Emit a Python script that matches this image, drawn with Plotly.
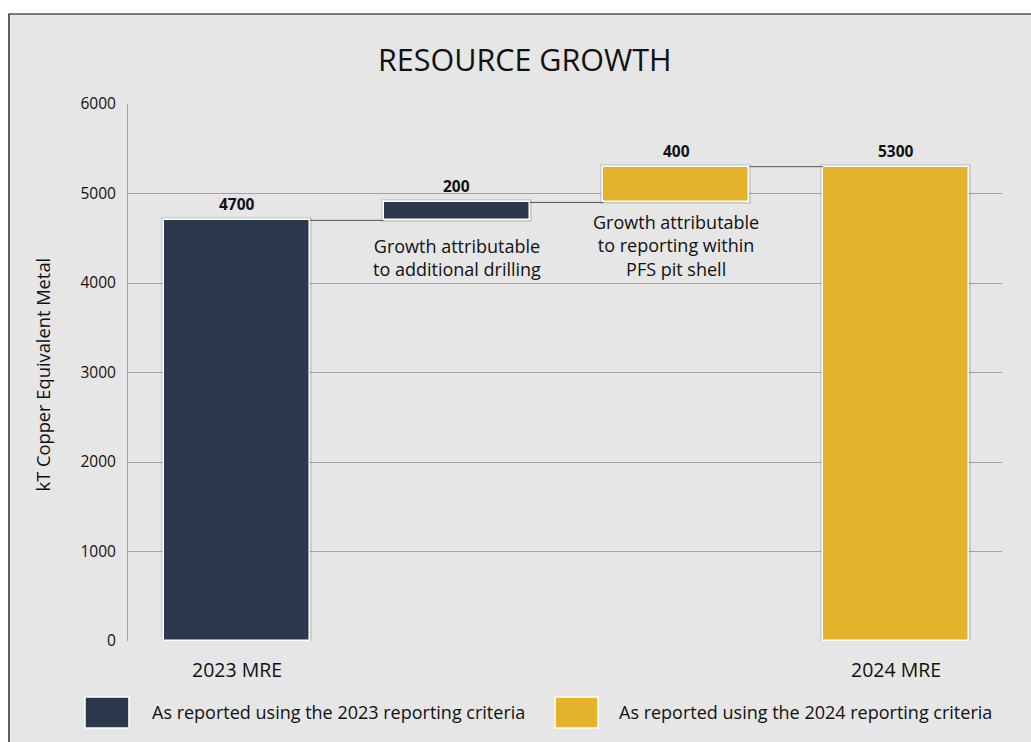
import plotly.graph_objects as go

# ---- data ----
categories = ["2023 MRE", "", "", "2024 MRE"]
growth_text = ["", "Growth attributable<br>to additional drilling",
               "Growth attributable<br>to reporting within<br>PFS pit shell", ""]
values = [4700, 200, 400, 5300]
bases = [0, 4700, 4900, 0]
series_color = ["2023", "2023", "2024", "2024"]
legend_labels = ["As reported using the 2023 reporting criteria",
                 "As reported using the 2024 reporting criteria"]
y_ticks = [0, 1000, 2000, 3000, 4000, 5000, 6000]

DARK = "#2c384b"
GOLD = "#e5b22b"
cmap = {"2023": DARK, "2024": GOLD}
FONT = "Open Sans, Noto Sans, sans-serif"
BW = 0.665

xs = list(range(len(values)))
colors = [cmap[s] for s in series_color]

fig = go.Figure()
# soft shadow
fig.add_trace(go.Bar(x=xs, y=values, base=bases, width=BW,
                     marker=dict(color="rgba(0,0,0,0)", line=dict(color="rgba(0,0,0,0.10)", width=5)),
                     hoverinfo="skip", showlegend=False))
fig.add_trace(go.Bar(x=xs, y=values, base=bases, width=BW,
                     marker=dict(color=colors, line=dict(color="white", width=1.5)),
                     showlegend=False))

# connectors
tops = [b + v for b, v in zip(bases, values)]
for i in range(len(values) - 1):
    lvl = tops[i]
    fig.add_trace(go.Scatter(x=[i + BW / 2, i + 1 - BW / 2], y=[lvl, lvl], mode="lines",
                             line=dict(color="#4f5a4f", width=1), hoverinfo="skip", showlegend=False))

ann = []
# value labels
for i, (t, v) in enumerate(zip(tops, values)):
    ann.append(dict(x=i, y=t, xref="x", yref="y", text=f"<b>{v}</b>", showarrow=False,
                    yanchor="middle", yshift=16, font=dict(family=FONT, size=15.5, color="#111")))
# growth descriptions
gshift = [0, -37, -43, 0]
for i, txt in enumerate(growth_text):
    if txt:
        ann.append(dict(x=i, y=bases[i], xref="x", yref="y", text=txt, showarrow=False,
                        yanchor="middle", yshift=gshift[i],
                        font=dict(family=FONT, size=18, color="#111")))
# category labels
for i, c in enumerate(categories):
    if c:
        ann.append(dict(x=i, y=-0.054, xref="x", yref="paper", text=c, showarrow=False,
                        yanchor="middle", font=dict(family=FONT, size=19.5, color="#111")))
# y title
ann.append(dict(x=-0.0973, y=0.4963, xref="paper", yref="paper", text="kT Copper Equivalent Metal",
                textangle=-90, showarrow=False, xanchor="center", yanchor="middle",
                font=dict(family=FONT, size=18.3, color="#111")))
# legend
leg_x = [(-0.0492, 0.0011, 0.0252), (0.4886, 0.5378, 0.5595)]
shapes = [dict(type="rect", xref="paper", yref="paper", x0=-0.1362, x1=1.2, y0=-0.3, y1=1.1676,
               fillcolor="#e6e6e6", line=dict(color="black", width=1.2), layer="below")]
for (x0, x1, xt), lab, col in zip(leg_x, legend_labels, [DARK, GOLD]):
    shapes.append(dict(type="rect", xref="paper", yref="paper", x0=x0, x1=x1, y0=-0.162, y1=-0.1043,
                       fillcolor=col, line=dict(color="white", width=1.5)))
    ann.append(dict(x=xt, y=-0.1322, xref="paper", yref="paper", text=lab, showarrow=False,
                    xanchor="left", yanchor="middle", font=dict(family=FONT, size=18, color="#111")))

fig.update_layout(
    width=1031, height=742,
    margin=dict(l=128, r=29, t=104, b=101),
    paper_bgcolor="white", plot_bgcolor="rgba(0,0,0,0)",
    barmode="overlay", bargap=0,
    title=dict(text="RESOURCE GROWTH", x=0.509, xanchor="center", y=1 - 60 / 742, yanchor="middle",
               font=dict(family=FONT, size=30.5, color="#111")),
    xaxis=dict(range=[-0.496, 3.482], showticklabels=False, showgrid=False, zeroline=False,
               showline=False),
    yaxis=dict(range=[0, 6000], tickvals=y_ticks, showgrid=True, gridcolor="#a3a3a3", gridwidth=1,
               zeroline=False, showline=True, linecolor="#a3a3a3", linewidth=1,
               ticks="outside", ticklen=8, tickcolor="rgba(0,0,0,0)",
               tickfont=dict(family=FONT, size=15.5, color="#111")),
    shapes=shapes, annotations=ann, showlegend=False,
)
fig.write_html("out.html")
